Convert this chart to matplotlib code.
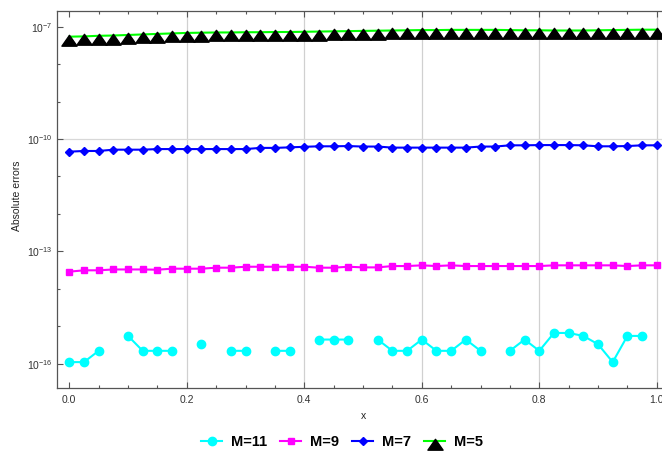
import numpy as np
import matplotlib
matplotlib.use("Agg")
import matplotlib.pyplot as plt
from matplotlib.path import Path

plt.rcParams['font.family'] = ['Liberation Sans', 'DejaVu Sans']
plt.rcParams['mathtext.fontset'] = 'custom'
plt.rcParams['mathtext.rm'] = 'Liberation Sans'
plt.rcParams['mathtext.it'] = 'Liberation Sans:italic'
plt.rcParams['mathtext.bf'] = 'Liberation Sans:bold'

# grid of collocation points
x = np.linspace(0, 1, 41)

# absolute errors for each M (0 means the error is exactly zero)
err_m11 = np.array([1.11, 1.11, 2.22, 0, 5.55, 2.22, 2.22, 2.22, 0, 3.33,
                    0, 2.22, 2.22, 0, 2.22, 2.22, 0, 4.44, 4.44, 4.44,
                    0, 4.44, 2.22, 2.22, 4.44, 2.22, 2.22, 4.44, 2.22, 0,
                    2.22, 4.44, 2.22, 6.66, 6.66, 5.55, 3.33, 1.11, 5.55, 5.55,
                    0]) * 1e-16
err_m9 = np.array([2.88, 3.13, 3.13, 3.30, 3.30, 3.30, 3.25, 3.46, 3.46, 3.46,
                   3.68, 3.68, 3.90, 3.90, 3.90, 3.90, 3.90, 3.68, 3.68, 3.90,
                   3.75, 3.75, 4.07, 4.07, 4.25, 4.07, 4.25, 4.07, 4.07, 4.07,
                   4.07, 4.07, 4.07, 4.25, 4.25, 4.25, 4.25, 4.25, 4.07, 4.25,
                   4.25]) * 1e-14
err_m7 = np.array([4.6, 4.8, 4.8, 5.2, 5.2, 5.2, 5.4, 5.4, 5.4, 5.4,
                   5.4, 5.4, 5.4, 5.8, 5.8, 6.0, 6.2, 6.4, 6.4, 6.5,
                   6.3, 6.3, 5.9, 5.9, 5.9, 5.9, 5.9, 5.9, 6.3, 6.3,
                   6.8, 6.8, 6.9, 6.9, 6.9, 6.8, 6.4, 6.4, 6.5, 6.8,
                   6.8]) * 1e-11
err_m5 = np.array([5.4, 5.5, 5.7, 5.8, 6.0, 6.2, 6.4, 6.6, 6.8, 6.9,
                   7.0, 7.0, 7.1, 7.1, 7.2, 7.2, 7.3, 7.4, 7.5, 7.6,
                   7.7, 7.8, 7.9, 8.0, 8.1, 8.1, 8.2, 8.2, 8.2, 8.2,
                   8.1, 8.0, 8.0, 7.9, 7.9, 7.9, 8.0, 8.1, 8.2, 8.3,
                   8.3]) * 1e-8

labels = ['M=11', 'M=9', 'M=7', 'M=5']
ytick_vals = [1e-16, 1e-13, 1e-10, 1e-7]
ytick_text = [r'$10^{-16}$', r'$10^{-13}$', r'$10^{-10}$', r'$10^{-7}$']
xtick_vals = [0.0, 0.2, 0.4, 0.6, 0.8, 1.0]
xtick_text = ['0.0', '0.2', '0.4', '0.6', '0.8', '1.0']

# triangle marker hanging below its point
tri = Path([(0, 2), (-7, -8), (7, -8), (0, 2)],
           [Path.MOVETO, Path.LINETO, Path.LINETO, Path.CLOSEPOLY])

fig = plt.figure(figsize=(6.62, 4.51), dpi=100)
ax = fig.add_axes([57 / 662, 1 - 388 / 451, 605 / 662, 377 / 451])

ax.plot(x, np.where(err_m11 > 0, err_m11, np.nan), color='#00ffff', lw=1.5,
        marker='o', ms=6, label=labels[0], clip_on=False, zorder=3)
ax.plot(x, err_m9, color='#ff00ff', lw=1.5, marker='s', ms=4.3,
        label=labels[1], clip_on=False, zorder=3)
ax.plot(x, err_m7, color='#0000ff', lw=1.5, marker='D', ms=4,
        label=labels[2], clip_on=False, zorder=3)
ax.plot(x, err_m5, color='#00ff00', lw=1.5, marker=tri, ms=12.5,
        mfc='black', mec='black', label=labels[3], clip_on=False, zorder=3)

ax.set_yscale('log')

ax.set_yticks(ytick_vals)
ax.set_yticklabels(ytick_text)
ax.set_yticks([10.0 ** k for k in range(-16, -6) if 10.0 ** k not in ytick_vals],
              minor=True)
ax.yaxis.set_minor_formatter(matplotlib.ticker.NullFormatter())
ax.set_xticks(xtick_vals)
ax.set_xticklabels(xtick_text)
ax.set_xticks(np.arange(0, 1.01, 0.05), minor=True)

ax.set_xlim(-0.0209, 1.0089)
ax.set_ylim(10 ** -16.646, 10 ** -6.582)

ax.tick_params(which='both', direction='in', top=True, right=False,
               colors='#555555', labelcolor='#333333', labelsize=7.5, width=0.8)
ax.tick_params(which='major', length=4)
ax.tick_params(which='minor', length=2.5)
ax.tick_params(axis='x', pad=5)
ax.tick_params(axis='y', pad=3)

for s in ['left', 'bottom', 'top']:
    ax.spines[s].set_color('#555555')
    ax.spines[s].set_linewidth(0.9)
ax.spines['right'].set_visible(False)

for gx in xtick_vals[1:]:
    ax.axvline(gx, color='#d0d0d0', lw=0.9, zorder=0)
ax.axhline(1e-10, color='#d8d8d8', lw=0.9, zorder=0)

ax.set_xlabel('x', fontsize=7.5, color='#222222')
ax.xaxis.set_label_coords(0.506, -0.062)
ax.set_ylabel('Absolute errors', fontsize=7.5, color='#222222')
ax.yaxis.set_label_coords(-0.058, 0.509)

fig.legend(loc='center', bbox_to_anchor=(342 / 662, 1 - 441.7 / 451),
           ncol=4, frameon=False, numpoints=1, handlelength=1.45,
           handletextpad=0.6, columnspacing=0.9, borderpad=0, borderaxespad=0,
           prop={'weight': 'bold', 'size': 10.5})

fig.savefig('out.png', dpi=100)
